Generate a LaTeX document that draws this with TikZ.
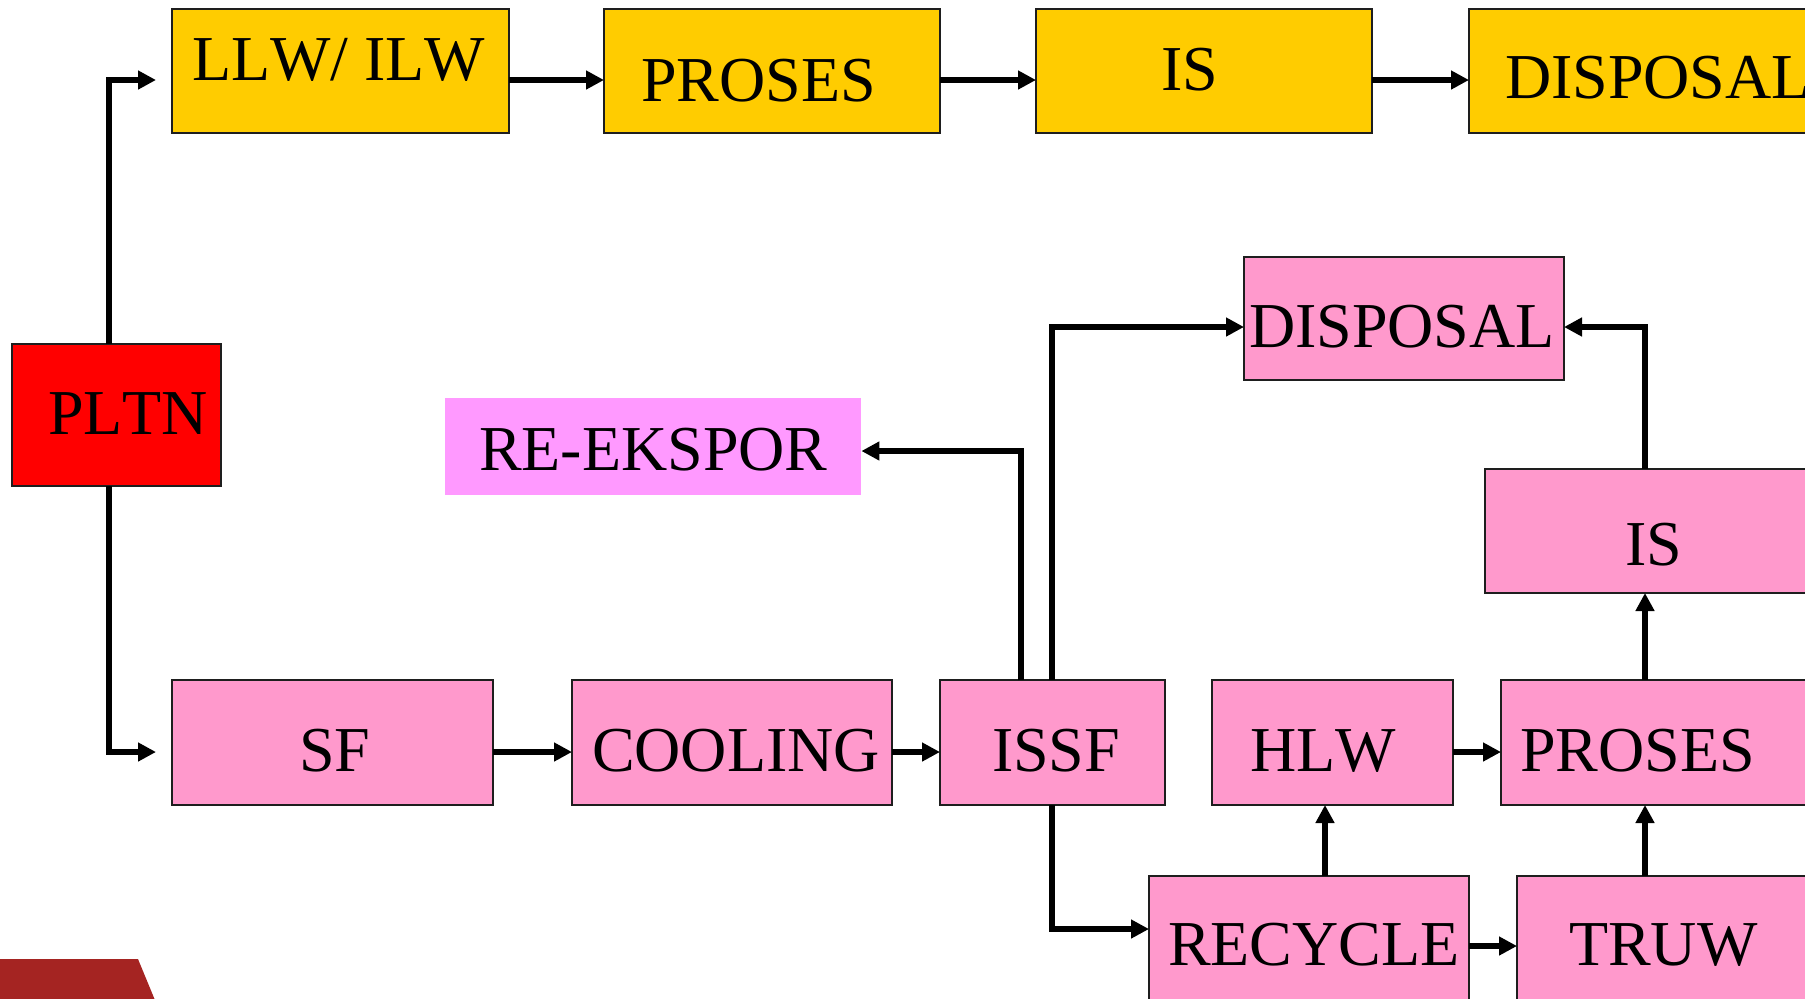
\documentclass[tikz,border=0pt]{standalone}
\usepackage{fontspec}
\setmainfont[Kerning=Off]{Liberation Serif}
\usetikzlibrary{arrows.meta,fit}
\definecolor{wasteyellow}{RGB}{255,204,0}
\definecolor{fuelpink}{RGB}{255,153,204}
\definecolor{exportpink}{RGB}{255,153,255}
\definecolor{plantred}{RGB}{255,0,0}
\definecolor{cornerred}{RGB}{165,36,34}
\definecolor{boxline}{RGB}{30,30,30}
\tikzset{
  box/.style={draw=boxline, line width=1pt, inner sep=0pt, outer sep=0pt},
  ybox/.style={box, fill=wasteyellow},
  pbox/.style={box, fill=fuelpink},
  lbl/.style={anchor=base west, inner sep=0pt, outer sep=0pt,
    font=\fontsize{32pt}{38pt}\selectfont},
  arr/.style={line width=2.8pt, line cap=butt, line join=miter,
    -{Triangle[length=9pt,width=9pt]}},
}
\begin{document}
\begin{tikzpicture}[x=0.5pt,y=-0.5pt]
\useasboundingbox (0,0) rectangle (1805,998);
\clip (0,0) rectangle (1805,998);

% corner decoration
\fill[cornerred] (0,959) -- (138,959) -- (157,1005) -- (0,1005) -- cycle;

% top row: low and intermediate level waste
\node[ybox, fit={(172,9) (509,133)}] (llw) {};
\node[ybox, fit={(604,9) (940,133)}] (prosA) {};
\node[ybox, fit={(1036,9) (1372,133)}] (isA) {};
\node[ybox, fit={(1469,9) (1820,133)}] (dispA) {};

% power plant
\node[box, fill=plantred, fit={(12,344) (221,486)}] (pltn) {};

% spent fuel branch
\node[draw=none, fill=exportpink, inner sep=0pt, fit={(445,398) (861,495)}] (reek) {};
\node[pbox, fit={(1244,257) (1564,380)}] (dispB) {};
\node[pbox, fit={(1485,469) (1820,593)}] (isB) {};
\node[pbox, fit={(172,680) (493,805)}] (sf) {};
\node[pbox, fit={(572,680) (892,805)}] (cool) {};
\node[pbox, fit={(940,680) (1165,805)}] (issf) {};
\node[pbox, fit={(1212,680) (1453,805)}] (hlw) {};
\node[pbox, fit={(1501,680) (1820,805)}] (prosB) {};
\node[pbox, fit={(1149,876) (1469,1010)}] (recy) {};
\node[pbox, fit={(1517,876) (1820,1010)}] (truw) {};

% labels
\node[lbl] (tllw) at (192,80) {LLW/ ILW};
\node[lbl] (tprosA) at (641,101) {PROSES};
\node[lbl] (tisA) at (1161,90) {IS};
\node[lbl] (tdispA) at (1505,98) {DISPOSAL};
\node[lbl] (tpltn) at (48,434) {PLTN};
\node[lbl] (treek) at (479,470) {RE-EKSPOR};
\node[lbl] (tdispB) at (1249,347) {DISPOSAL};
\node[lbl] (tisB) at (1625,565) {IS};
\node[lbl] (tsf) at (299,771) {SF};
\node[lbl] (tcool) at (592,771) {COOLING};
\node[lbl] (tissf) at (992,771) {ISSF};
\node[lbl] (thlw) at (1250,771) {HLW};
\node[lbl] (tprosB) at (1520,771) {PROSES};
\node[lbl] (trecy) at (1168,965) {RECYCLE};
\node[lbl] (ttruw) at (1569,965) {TRUW};

% routing points
\coordinate (topy) at (0,80);
\coordinate (lowy) at (0,752);
\coordinate (bendUp) at (109,80);
\coordinate (bendDown) at (109,752);
\coordinate (reBend) at (1021,451);
\coordinate (dispBendL) at (1052,327);
\coordinate (dispBendR) at (1645,327);
\coordinate (recyBend) at (1052,929);
\coordinate (recyUp) at (1325,0);
\coordinate (rightUp) at (1645,0);
\coordinate (truwy) at (0,946);

% connectors from the plant
\draw[arr, shorten >=8pt] (bendUp |- pltn.north) -- (bendUp) -- (bendUp -| llw.west);
\draw[arr, shorten >=8pt] (bendDown |- pltn.south) -- (bendDown) -- (bendDown -| sf.west);

% top row chain
\draw[arr] (llw.east |- topy) -- (prosA.west |- topy);
\draw[arr] (prosA.east |- topy) -- (isA.west |- topy);
\draw[arr] (isA.east |- topy) -- (dispA.west |- topy);

% lower row chain
\draw[arr] (sf.east |- lowy) -- (cool.west |- lowy);
\draw[arr] (cool.east |- lowy) -- (issf.west |- lowy);
\draw[arr] (hlw.east |- lowy) -- (prosB.west |- lowy);

% branches out of ISSF
\draw[arr] (reBend |- issf.north) -- (reBend) -- (reBend -| reek.east);
\draw[arr] (dispBendL |- issf.north) -- (dispBendL) -- (dispBendL -| dispB.west);
\draw[arr] (recyBend |- issf.south) -- (recyBend) -- (recyBend -| recy.west);

% recycling products
\draw[arr] (recyUp |- recy.north) -- (recyUp |- hlw.south);
\draw[arr] (recy.east |- truwy) -- (truw.west |- truwy);
\draw[arr] (rightUp |- truw.north) -- (rightUp |- prosB.south);
\draw[arr] (rightUp |- prosB.north) -- (rightUp |- isB.south);
\draw[arr] (dispBendR |- isB.north) -- (dispBendR) -- (dispBendR -| dispB.east);
\end{tikzpicture}
\end{document}
